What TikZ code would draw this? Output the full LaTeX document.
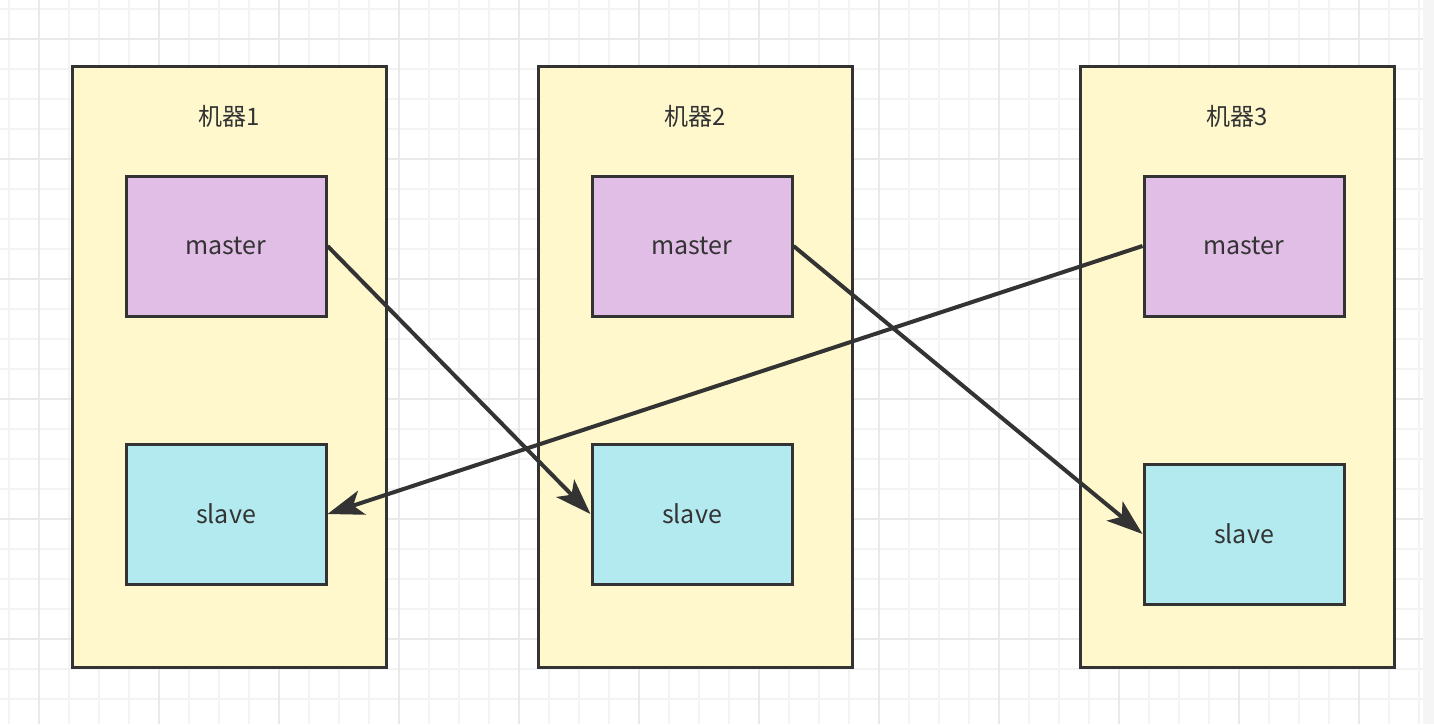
\documentclass[tikz,border=0pt]{standalone}
\usepackage{fontspec}
\setmainfont{Noto Sans CJK SC}
\usetikzlibrary{arrows.meta}

\definecolor{edgeline}{HTML}{333333}
\definecolor{machinefill}{HTML}{FFF8CC}
\definecolor{masterfill}{HTML}{E1BEE6}
\definecolor{slavefill}{HTML}{B3EAF0}
\definecolor{gridminor}{HTML}{F3F3F3}
\definecolor{gridmajor}{HTML}{E9E9E9}

\begin{document}
\begin{tikzpicture}[x=1pt,y=-1pt,
  machine/.style={draw=edgeline,fill=machinefill,line width=3pt,inner sep=0pt,
                  minimum width=314pt,minimum height=601pt},
  role/.style={draw=edgeline,line width=3pt,inner sep=0pt,text=edgeline,
               font=\fontsize{25}{30}\selectfont,minimum width=200pt,minimum height=140pt},
  master/.style={role,fill=masterfill},
  slave/.style={role,fill=slavefill},
  title/.style={text=edgeline,font=\fontsize{24}{28}\selectfont},
  link/.style={draw=edgeline,line width=4pt,-{Stealth[length=36pt,width=25pt,inset=9pt]}}]
\useasboundingbox (0,0) rectangle (1434,724);
\fill[white] (0,0) rectangle (1434,724);
% grid
\foreach \g in {9,39,...,1434} \draw[gridminor,line width=2pt] (\g,0) -- (\g,724);
\foreach \g in {9,39,...,724} \draw[gridminor,line width=2pt] (0,\g) -- (1434,\g);
\foreach \g in {39,159,...,1434} \draw[gridmajor,line width=2pt] (\g,0) -- (\g,724);
\foreach \g in {39,159,...,724} \draw[gridmajor,line width=2pt] (0,\g) -- (1434,\g);
\fill[gridminor!80!gray!30] (1423,0) rectangle (1434,724);

\node[machine] (m1) at (229,366.5) {};
\node[machine] (m2) at (695,366.5) {};
\node[machine] (m3) at (1237,366.5) {};

\node[title] (t1) at (229,116) {机器1};
\node[title] (t2) at (695,116) {机器2};
\node[title] (t3) at (1237,116) {机器3};

\node[master] (ma1) at (226,246) {master};
\node[master] (ma2) at (692,246) {master};
\node[master] (ma3) at (1244,246) {master};

\node[slave] (sl1) at (226,514) {slave};
\node[slave] (sl2) at (692,514) {slave};
\node[slave] (sl3) at (1244,534) {slave};

\path
(ma1.east) edge[link] (sl2.west)
(ma2.east) edge[link] (sl3.west)
(ma3.west) edge[link] (sl1.east)
;
\end{tikzpicture}
\end{document}
